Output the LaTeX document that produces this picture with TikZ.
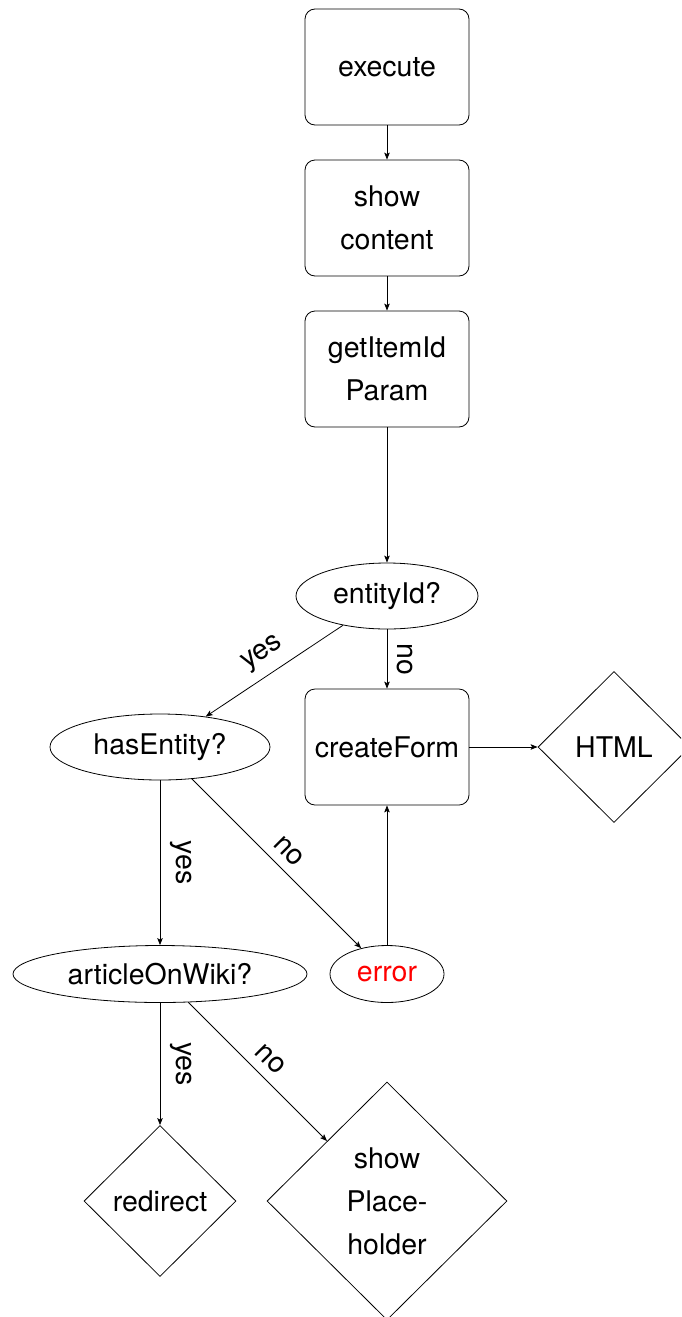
\documentclass[tikz,border=0pt]{standalone}
\usepackage{fontspec}
\setmainfont{TeX Gyre Heros}
\usetikzlibrary{shapes.geometric,arrows.meta}
\begin{document}
\begin{tikzpicture}[x=1pt,y=-1pt,
  every node/.style={font=\fontsize{28.5}{43}\selectfont},
  proc/.style={draw, line width=0.8pt, rounded corners=10pt, minimum width=164pt, minimum height=116pt, align=center, inner sep=0pt},
  decision/.style={draw, line width=0.8pt, ellipse, inner sep=0pt},
  outcome/.style={draw, line width=0.8pt, diamond, inner sep=0pt, align=center},
  flow/.style={draw, line width=0.8pt, -{Stealth[length=7pt,width=5.5pt,inset=1.5pt]}},
  lbl/.style={midway, sloped, above, inner sep=9.5pt},
  lblv/.style={midway, rotate=-90, anchor=south, inner sep=9.5pt}]
  % page frame
  \clip (0,0) rectangle (681,1317);

  % main column
  \node[proc] (exec)  at (387,67)  {execute};
  \node[proc] (show)  at (387,218) {show\\content};
  \node[proc] (getid) at (387,369) {getItemId\\Param};
  \node[decision, minimum width=182pt, minimum height=66pt] (entity) at (387,596) {entityId?};
  \node[proc] (form)  at (387,747) {createForm};
  \node[outcome, minimum width=152pt, minimum height=151pt] (html) at (614,747) {HTML};

  % entity branch
  \node[decision, minimum width=220pt, minimum height=66pt] (has)  at (160,747) {hasEntity?};
  \node[decision, minimum width=294pt, minimum height=57pt] (wiki) at (160,974) {articleOnWiki?};
  \node[decision, minimum width=114pt, minimum height=57pt, text=red] (err) at (387,974) {error};
  \node[outcome, minimum width=152pt, minimum height=151pt] (redir) at (160,1201) {redirect};
  \node[outcome, minimum width=240pt, minimum height=238pt] (ph) at (387,1201) {show\\Place-\\holder};

  % connectors
  \draw[flow] (exec) -- (show);
  \draw[flow] (show) -- (getid);
  \draw[flow] (getid) -- (entity);
  \draw[flow] (entity) -- node[lblv]{no} (form);
  \draw[flow] (entity) -- node[lbl]{yes} (has);
  \draw[flow] (form) -- (html);
  \draw[flow] (has) -- node[lblv]{yes} (wiki);
  \draw[flow] (has) -- node[lbl]{no} (err);
  \draw[flow] (err) -- (form);
  \draw[flow] (wiki) -- node[lblv]{yes} (redir);
  \draw[flow] (wiki) -- node[lbl]{no} (ph);
\end{tikzpicture}
\end{document}
